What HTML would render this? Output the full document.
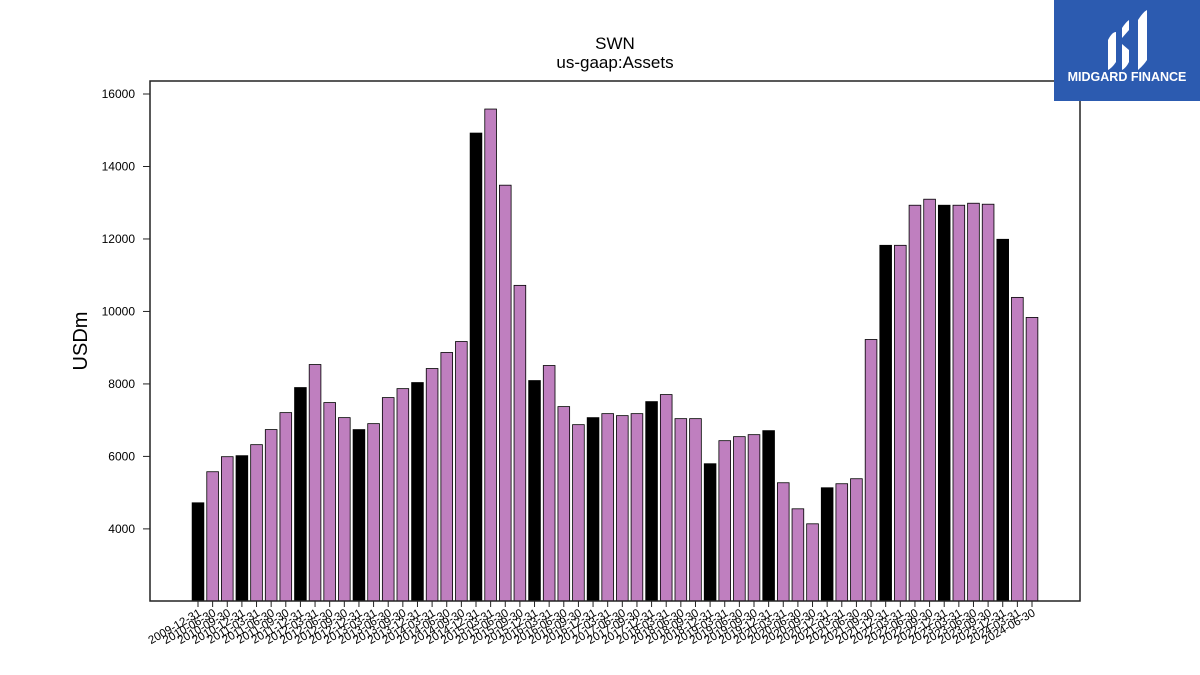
<!DOCTYPE html>
<html><head><meta charset="utf-8"><style>
body{margin:0;background:#fff}
svg{display:block;font-family:"Liberation Sans","DejaVu Sans",sans-serif}
</style></head><body>
<svg id="chart" width="1200" height="675" viewBox="0 0 1200 675">
<rect width="1200" height="675" fill="#fff"/>
<text x="615" y="49" text-anchor="middle" font-size="17">SWN</text>
<text x="615" y="68" text-anchor="middle" font-size="17">us-gaap:Assets</text>
<text transform="translate(87,341) rotate(-90)" text-anchor="middle" font-size="20">USDm</text>
<g id="bars"></g>
<g id="yticks"></g>
<g id="xticks"></g>
<rect x="150" y="81" width="930" height="520" fill="none" stroke="#222" stroke-width="1.5"/>
<g>
<rect x="1054" y="0" width="146" height="101" fill="#2c5bb0"/>
<path d="M1108 40 q4-8 8-8 v30 q-4 6-8 8z" fill="#fff"/>
<path d="M1122 28 q4-6 7-8 v10 l-7 8z M1122 44 l7 6 v12 q-3 6-7 8z" fill="#fff"/>
<path d="M1138 20 q5-8 9-10 v50 q-4 6-9 10z" fill="#fff"/>
<text x="1127" y="81" text-anchor="middle" font-size="12.5" font-weight="bold" fill="#fff">MIDGARD FINANCE</text>
</g>
</svg>
<script>
const dates=["2009-12-31"];
(function(){let yr=2010,q=2;while(!(yr===2024&&q===3)){const md=["03-31","06-30","09-30","12-31"][q-1];dates.push(yr+"-"+md);q++;if(q>4){q=1;yr++;}}})();
const values=[4720,5577,5992,6020,6324,6740,7208,7900,8535,7485,7070,6740,6904,7623,7870,8038,8425,8867,9170,14922,15585,13484,10720,8093,8508,7374,6876,7070,7180,7125,7180,7512,7706,7042,7042,5798,6434,6545,6600,6711,5273,4554,4140,5135,5246,5384,9226,11825,11825,12931,13097,12931,12931,12986,12959,11991,10388,9835];
const yTicks=[4000,6000,8000,10000,12000,14000,16000];
const ns="http://www.w3.org/2000/svg";
const yMin=2010,yMax=16359,plotTop=81,plotBot=601;
const yScale=v=>plotBot-(v-yMin)/(yMax-yMin)*(plotBot-plotTop);
const x0=198,step=(1032-198)/57;
const xScale=i=>x0+i*step;
const bw=step*0.8;
const gb=document.getElementById('bars'),gy=document.getElementById('yticks'),gx=document.getElementById('xticks');
values.forEach((v,i)=>{
  const r=document.createElementNS(ns,'rect');
  r.setAttribute('x',xScale(i)-bw/2);r.setAttribute('y',yScale(v));
  r.setAttribute('width',bw);r.setAttribute('height',plotBot-yScale(v));
  r.setAttribute('fill',(dates[i]||'').endsWith('12-31')?'#000':'#bf7fbf');
  r.setAttribute('stroke','#000');r.setAttribute('stroke-width','0.8');
  
  
  gb.appendChild(r);
  const t=document.createElementNS(ns,'line');
  t.setAttribute('x1',xScale(i));t.setAttribute('x2',xScale(i));t.setAttribute('y1',plotBot);t.setAttribute('y2',plotBot+6);
  t.setAttribute('stroke','#222');
  
  
  gx.appendChild(t);
  const l=document.createElementNS(ns,'text');
  l.setAttribute('transform','translate('+(xScale(i)+4)+','+(plotBot+14)+') rotate(-30)');
  l.setAttribute('text-anchor','end');l.setAttribute('font-size','11.5');
  l.textContent=dates[i]||'';
  
  
  gx.appendChild(l);
});
yTicks.forEach(v=>{
  const t=document.createElementNS(ns,'line');
  t.setAttribute('x1',143);t.setAttribute('x2',150);t.setAttribute('y1',yScale(v));t.setAttribute('y2',yScale(v));
  t.setAttribute('stroke','#222');
  
  
  gy.appendChild(t);
  const l=document.createElementNS(ns,'text');
  l.setAttribute('x',135);l.setAttribute('y',yScale(v)+4);l.setAttribute('text-anchor','end');l.setAttribute('font-size','12');
  l.textContent=v;
  
  
  gy.appendChild(l);
});
</script>
</body></html>
